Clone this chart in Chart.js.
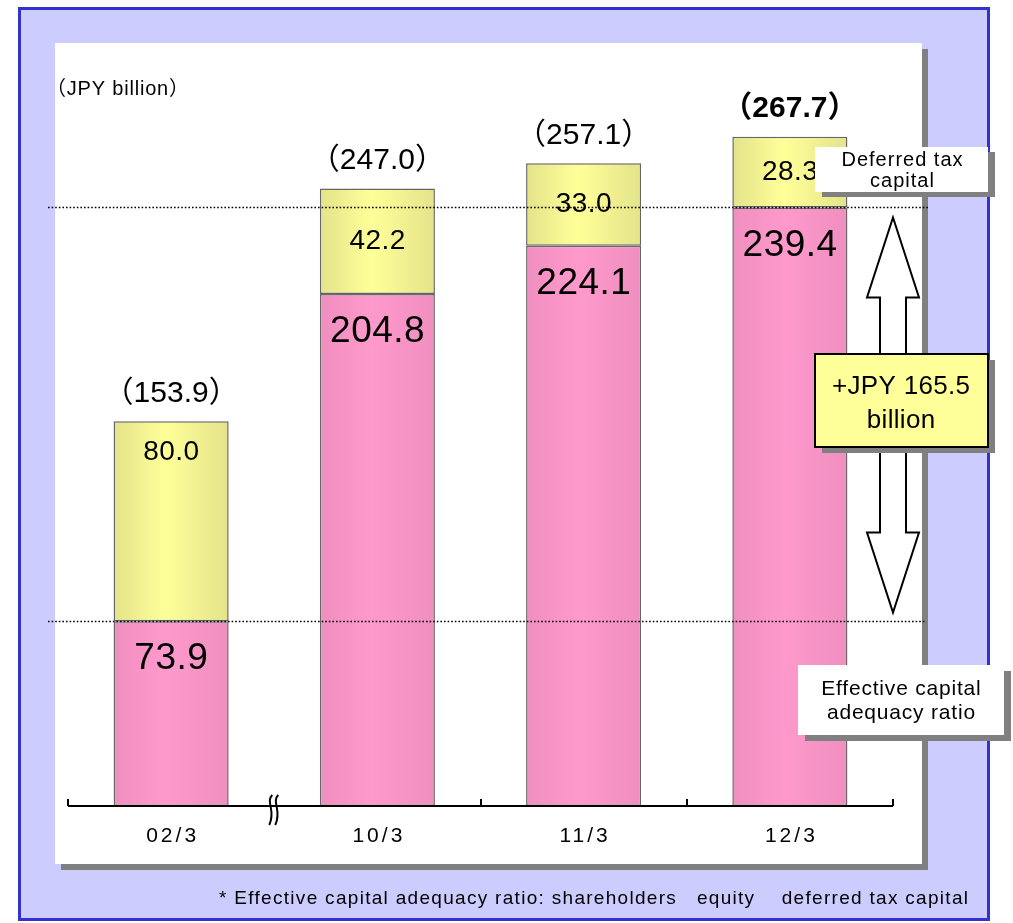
<!DOCTYPE html>
<html>
<head>
<meta charset="utf-8">
<script src="https://cdn.jsdelivr.net/npm/chart.js@4/dist/chart.umd.min.js"></script>
<style>
  html, body { margin: 0; padding: 0; background: #ffffff; }
  #wrap { width: 1013px; height: 923px; }
</style>
</head>
<body>
<div id="wrap"><canvas id="c" width="1013" height="923"></canvas></div>
<script>
// Capital composition per fiscal year-end (JPY billion)
const categories = ['02/3', '10/3', '11/3', '12/3'];
const equity = [73.9, 204.8, 224.1, 239.4];
const deferredTax = [80.0, 42.2, 33.0, 28.3];
const seriesNames = ['Effective capital adequacy ratio', 'Deferred tax capital'];
const unitLabel = '（JPY billion）';
const footnote = '* Effective capital adequacy ratio: shareholders   equity    deferred tax capital';

const FONT = '"Liberation Sans", Arial, "Noto Sans CJK JP", sans-serif';

function barGradient(ctx, edge, mid) {
  const chart = ctx.chart;
  const area = chart.chartArea;
  if (!area || ctx.dataIndex === undefined) return mid;
  const x = chart.scales.x.getPixelForValue(ctx.dataIndex);
  const half = (area.right - area.left) / categories.length * 0.62 * 0.9 / 2;
  const g = chart.ctx.createLinearGradient(x - half, 0, x + half, 0);
  g.addColorStop(0, edge);
  g.addColorStop(0.45, mid);
  g.addColorStop(1, edge);
  return g;
}

function shadowBox(c, x, y, w, h, fill, dx, dy, stroke) {
  c.fillStyle = '#808080';
  c.fillRect(x + dx, y + dy, w, h);
  c.fillStyle = fill;
  c.fillRect(x, y, w, h);
  if (stroke) {
    c.strokeStyle = stroke;
    c.lineWidth = 2;
    c.strokeRect(x, y, w, h);
  }
}

// text with optional letter spacing, centred on x regardless of trailing spacing
function spacedText(c, text, x, y, font, spacing, align) {
  c.font = font;
  c.letterSpacing = spacing + 'px';
  const w = c.measureText(text).width - spacing;
  c.textAlign = 'left';
  let sx = x;
  if (align === 'center') sx = x - w / 2;
  else if (align === 'right') sx = x - w;
  c.fillText(text, sx, y);
  c.letterSpacing = '0px';
}

const framePlugin = {
  id: 'frame',
  beforeDraw(chart) {
    const c = chart.ctx;
    c.save();
    // lavender frame with blue border
    c.fillStyle = '#ccccff';
    c.fillRect(19, 8, 970, 912);
    c.strokeStyle = '#3333cc';
    c.lineWidth = 3;
    c.strokeRect(19.5, 8.5, 969, 911);
    // white panel with drop shadow
    shadowBox(c, 55, 43, 867, 821, '#ffffff', 6, 6);
    c.restore();
  }
};

const annotatePlugin = {
  id: 'annotate',
  afterDatasetsDraw(chart) {
    const c = chart.ctx;
    const xs = chart.scales.x;
    const ys = chart.scales.y;
    const area = chart.chartArea;
    const lower = chart.getDatasetMeta(0).data;
    const upper = chart.getDatasetMeta(1).data;
    c.save();

    // baseline axis with boundary ticks (no tick at the axis break)
    c.strokeStyle = '#000';
    c.lineWidth = 2;
    c.beginPath();
    c.moveTo(area.left, area.bottom);
    c.lineTo(area.right, area.bottom);
    const step = (area.right - area.left) / categories.length;
    for (let i = 0; i <= categories.length; i++) {
      if (i === 1) continue;
      const tx = Math.round(area.left + step * i);
      c.moveTo(tx, area.bottom);
      c.lineTo(tx, area.bottom - 7);
    }
    c.stroke();

    // axis break mark
    const bx = area.left + step;
    c.lineWidth = 2;
    for (const dx of [-3, 3]) {
      c.beginPath();
      c.moveTo(bx + dx + 1, area.bottom - 11);
      c.bezierCurveTo(bx + dx - 6, area.bottom - 4, bx + dx + 5, area.bottom + 4, bx + dx - 2, area.bottom + 19);
      c.stroke();
    }

    // category labels
    c.fillStyle = '#000';
    c.textBaseline = 'middle';
    categories.forEach((lab, i) =>
      spacedText(c, lab, xs.getPixelForValue(i), area.bottom + 30, '21px ' + FONT, 3, 'center'));

    // segment values and totals
    lower.forEach((bar, i) => {
      spacedText(c, equity[i].toFixed(1), bar.x, bar.y + 38, '37px ' + FONT, 0.5, 'center');
    });
    upper.forEach((bar, i) => {
      const h = bar.base - bar.y;
      const ly = h > 110 ? bar.y + 31 : bar.y + h / 2;
      spacedText(c, deferredTax[i].toFixed(1), bar.x, ly, '28px ' + FONT, 0.5, 'center');
      const total = (equity[i] + deferredTax[i]).toFixed(1);
      const weight = i === categories.length - 1 ? 'bold ' : '';
      spacedText(c, '（' + total + '）', bar.x, bar.y - 28, weight + '30px ' + FONT, 0, 'center');
    });

    // unit label
    spacedText(c, unitLabel, 46, 89, '20px ' + FONT, 0.8, 'left');

    // reference lines at first and last equity levels
    const yLow = Math.round(ys.getPixelForValue(equity[0])) + 0.5;
    const yHigh = Math.round(ys.getPixelForValue(equity[equity.length - 1])) + 0.5;
    c.strokeStyle = '#000';
    c.lineWidth = 1.6;
    c.setLineDash([1.6, 2]);
    c.beginPath();
    c.moveTo(48, yHigh); c.lineTo(929, yHigh);
    c.moveTo(48, yLow); c.lineTo(926, yLow);
    c.stroke();
    c.setLineDash([]);

    // double-headed hollow arrow between the two levels
    const ax = 893, top = yHigh + 10, bot = yLow - 9;
    c.fillStyle = '#fff';
    c.strokeStyle = '#000';
    c.lineWidth = 2;
    c.lineJoin = 'miter';
    c.beginPath();
    c.moveTo(ax, top);
    c.lineTo(ax + 26, top + 80);
    c.lineTo(ax + 13, top + 80);
    c.lineTo(ax + 13, bot - 80);
    c.lineTo(ax + 26, bot - 80);
    c.lineTo(ax, bot);
    c.lineTo(ax - 26, bot - 80);
    c.lineTo(ax - 13, bot - 80);
    c.lineTo(ax - 13, top + 80);
    c.lineTo(ax - 26, top + 80);
    c.closePath();
    c.fill();
    c.stroke();

    // callouts
    shadowBox(c, 815, 147, 173, 45, '#ffffff', 7, 5);
    c.fillStyle = '#000';
    spacedText(c, 'Deferred tax', 902, 160, '20px ' + FONT, 1, 'center');
    spacedText(c, 'capital', 902, 181, '20px ' + FONT, 1, 'center');

    shadowBox(c, 815, 354, 173, 93, '#ffff99', 7, 6, '#000');
    c.fillStyle = '#000';
    const gain = (equity[equity.length - 1] - equity[0]).toFixed(1);
    spacedText(c, '+JPY ' + gain, 901, 387, '26px ' + FONT, 0.3, 'center');
    spacedText(c, 'billion', 901, 421, '26px ' + FONT, 0.3, 'center');

    shadowBox(c, 798, 665, 206, 70, '#ffffff', 7, 6);
    c.fillStyle = '#000';
    spacedText(c, 'Effective capital', 901, 689, '21px ' + FONT, 0.8, 'center');
    spacedText(c, 'adequacy ratio', 901, 713, '21px ' + FONT, 0.8, 'center');

    // footnote
    spacedText(c, footnote, 968, 899, '19px ' + FONT, 1.3, 'right');

    c.restore();
  }
};

new Chart(document.getElementById('c'), {
  type: 'bar',
  data: {
    labels: categories,
    datasets: [
      {
        label: seriesNames[0],
        data: equity,
        backgroundColor: ctx => barGradient(ctx, '#ef8fbf', '#ff99cc'),
        borderColor: '#666666',
        borderWidth: 1.5,
        borderSkipped: false
      },
      {
        label: seriesNames[1],
        data: deferredTax,
        backgroundColor: ctx => barGradient(ctx, '#e3e38a', '#ffff99'),
        borderColor: '#666666',
        borderWidth: 1.5,
        borderSkipped: false
      }
    ]
  },
  options: {
    responsive: false,
    animation: false,
    devicePixelRatio: 1,
    layout: { padding: { left: 68, right: 120, top: 56, bottom: 117 } },
    datasets: { bar: { barPercentage: 0.9, categoryPercentage: 0.62 } },
    plugins: { legend: { display: false }, tooltip: { enabled: false }, title: { display: false } },
    scales: {
      x: { stacked: true, display: false },
      y: { stacked: true, display: false, min: 0, max: 300 }
    }
  },
  plugins: [framePlugin, annotatePlugin]
});
</script>
</body>
</html>
